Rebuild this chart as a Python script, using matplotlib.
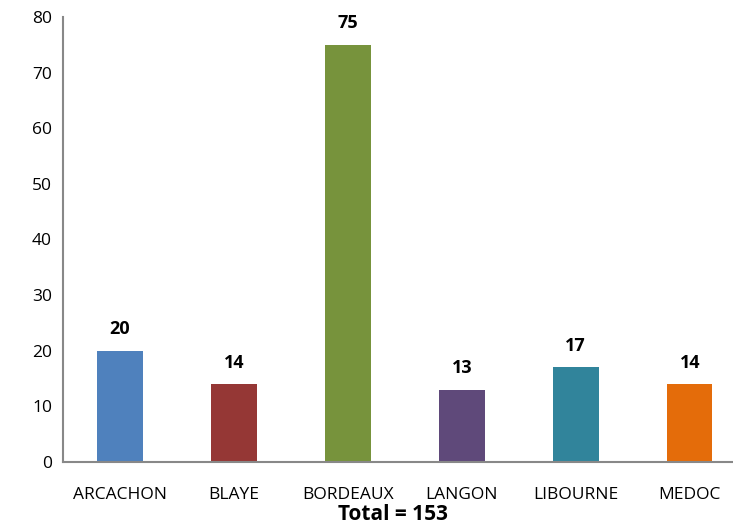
import matplotlib.pyplot as plt

# Données
communes = ["ARCACHON", "BLAYE", "BORDEAUX", "LANGON", "LIBOURNE", "MEDOC"]
valeurs = [20, 14, 75, 13, 17, 14]
couleurs = ["#4F81BD", "#953735", "#77933C", "#5F497A", "#31849B", "#E46C0A"]
total = 153

plt.rcParams['font.family'] = ['Open Sans', 'DejaVu Sans']

fig = plt.figure(figsize=(7.33, 5.28), dpi=100)
ax = fig.add_axes([0.086, 0.125, 0.914, 0.843])

x = range(len(communes))
barres = ax.bar(x, valeurs, width=0.40, color=couleurs)

for b, v in zip(barres, valeurs):
    ax.annotate(str(v), (b.get_x() + b.get_width() / 2, v),
                xytext=(0, 9), textcoords='offset points',
                ha='center', va='bottom', fontsize=13, fontweight='bold')

# l'axe des x continue au-delà du bord droit
ax.set_xlim(-0.5, 5.38)
ax.set_ylim(0, 80)
ax.set_yticks(range(0, 81, 10))
ax.set_xticks(list(x))
ax.set_xticklabels(communes)
ax.tick_params(length=0, labelsize=12.5, pad=8)
ax.tick_params(axis='x', pad=18)

for s in ['top', 'right']:
    ax.spines[s].set_visible(False)
for s in ['left', 'bottom']:
    ax.spines[s].set_color('#888888')
    ax.spines[s].set_linewidth(1.5)

fig.text(0.536, 0.025, f"Total = {total}", ha='center', va='center',
         fontsize=15, fontweight='bold')

fig.savefig('out.png', dpi=100)
